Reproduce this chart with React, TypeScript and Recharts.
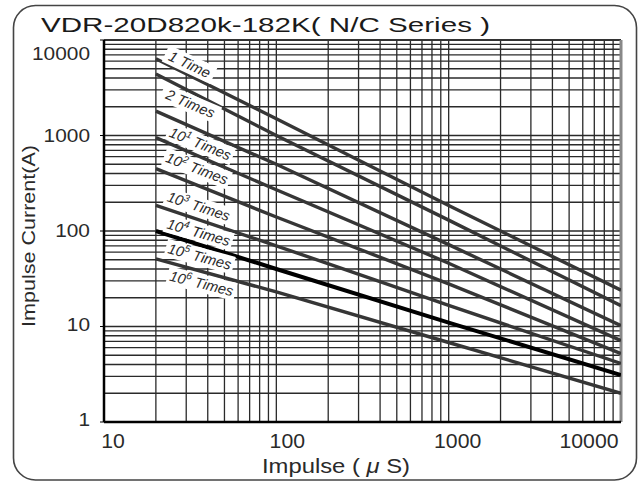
import React from "react";
import {
  LineChart,
  Line,
  XAxis,
  YAxis,
  CartesianGrid,
  ReferenceLine,
  ReferenceDot,
} from "recharts";

const impulseUs = [20, 100, 1000, 10000];

// peak current (A) for each number of impulses
const oneTime = [6350, 1500, 185, 24];
const twoTimes = [4400, 1000, 130, 16.5];
const times1e1 = [1800, 500, 72, 10.2];
const times1e2 = [950, 270, 46, 7.1];
const times1e3 = [450, 140, 28, 5.2];
const times1e4 = [185, 70, 16.6, 4.1];
const times1e5 = [100, 40, 11, 3.1];
const times1e6 = [51, 23, 6.8, 2.0];

const xTicks = [10, 100, 1000, 10000];
const yTicks = [1, 10, 100, 1000, 10000];

const xGrid = [
  20, 30, 40, 50, 60, 70, 80, 90, 100, 200, 300, 400, 500, 600, 700, 800, 900,
  1000, 2000, 3000, 4000, 5000, 6000, 7000, 8000, 9000,
];
const yGrid = [
  2, 3, 4, 5, 6, 7, 8, 9, 10, 20, 30, 40, 50, 60, 70, 80, 90, 100, 200, 300,
  400, 500, 600, 700, 800, 900, 1000, 2000, 3000, 4000, 5000, 6000, 7000, 8000,
  9000,
];

// curve tags: "10" + superscript + rest
const tagTexts = [
  { pre: "1 Time", sup: "", post: "" },
  { pre: "2 Times", sup: "", post: "" },
  { pre: "10", sup: "1", post: " Times" },
  { pre: "10", sup: "2", post: " Times" },
  { pre: "10", sup: "3", post: " Times" },
  { pre: "10", sup: "4", post: " Times" },
  { pre: "10", sup: "5", post: " Times" },
  { pre: "10", sup: "6", post: " Times" },
];
// where each tag sits, in chart units
const tagX = [31.4, 31.7, 36.2, 34.6, 35.4, 35.4, 35.9, 36.8];
const tagY = [5540, 2148, 819, 451, 181, 96.5, 54, 28.2];
const tagAngle = [25, 23, 22, 21, 18, 16, 15, 14];

const curves = [
  { key: "c1", values: oneTime },
  { key: "c2", values: twoTimes },
  { key: "c3", values: times1e1 },
  { key: "c4", values: times1e2 },
  { key: "c5", values: times1e3 },
  { key: "c6", values: times1e4 },
  { key: "c7", values: times1e5, bold: true },
  { key: "c8", values: times1e6 },
];

const rows = impulseUs.map((t, i) => {
  const row: Record<string, number> = { t };
  curves.forEach((c) => (row[c.key] = c.values[i]));
  return row;
});

const FONT = "'Liberation Sans', Arial, sans-serif";

const xShift: Record<number, number> = { 10: 9, 100: 11, 1000: 9, 10000: -32 };
const XTick = (props: any) => {
  const { x, payload } = props;
  const s = String(payload.value);
  return (
    <text
      x={x + (xShift[payload.value] ?? 0)}
      y={448}
      textAnchor="middle"
      fontSize={20}
      fontFamily={FONT}
      fill="#2a2a2a"
      textLength={11.8 * s.length}
      lengthAdjust="spacingAndGlyphs"
    >
      {s}
    </text>
  );
};

const yShift: Record<number, number> = { 1: -3, 10: -2, 100: -1, 1000: 0, 10000: 13 };
const YTick = (props: any) => {
  const { y, payload } = props;
  const s = String(payload.value);
  return (
    <text
      x={90}
      y={y + (yShift[payload.value] ?? 0) + 6.5}
      textAnchor="end"
      fontSize={18}
      fontFamily={FONT}
      fill="#2a2a2a"
      textLength={11.6 * s.length}
      lengthAdjust="spacingAndGlyphs"
    >
      {s}
    </text>
  );
};

const CurveTag = (props: any) => {
  const { cx, cy, idx } = props;
  const tag = tagTexts[idx];
  const w = tag.sup ? 70 : tag.pre.length * 8.2 + 4;
  return (
    <g transform={`translate(${cx},${cy}) rotate(${tagAngle[idx]})`}>
      <rect x={-w / 2} y={-9} width={w} height={18} fill="#fff" />
      <text
        x={0}
        y={5}
        textAnchor="middle"
        fontSize={14.5}
        fontStyle="italic"
        fontFamily={FONT}
        fill="#2a2a2a"
      >
        {tag.pre}
        {tag.sup ? (
          <tspan dy={-6} fontSize={10}>
            {tag.sup}
          </tspan>
        ) : null}
        {tag.post ? <tspan dy={tag.sup ? 6 : 0}>{tag.post}</tspan> : null}
      </text>
    </g>
  );
};

export default function App() {
  return (
    <div style={{ position: "absolute", left: 0, top: 0, width: 642, height: 482 }}>
      <LineChart
        width={642}
        height={482}
        data={rows}
        margin={{ top: 40, right: 21, left: 0, bottom: 0 }}
      >
        <CartesianGrid
          horizontalValues={yGrid}
          verticalValues={xGrid}
          stroke="#2a2a2a"
          strokeWidth={1.3}
        />
        <XAxis
          type="number"
          dataKey="t"
          scale="log"
          domain={[10, 10000]}
          ticks={xTicks}
          interval={0}
          allowDataOverflow
          height={60}
          axisLine={{ stroke: "#000", strokeWidth: 2.5 }}
          tickLine={false}
          tick={<XTick />}
        />
        <YAxis
          type="number"
          scale="log"
          domain={[1, 10000]}
          ticks={yTicks}
          interval={0}
          allowDataOverflow
          width={104}
          axisLine={{ stroke: "#000", strokeWidth: 2.5 }}
          tickSize={4}
          tickLine={{ stroke: "#000" }}
          tick={<YTick />}
        />
        <ReferenceLine y={10000} stroke="#333" strokeWidth={2} />
        <ReferenceLine x={10000} stroke="#888" strokeWidth={3} />
        {curves.map((c) => (
          <Line
            key={c.key}
            type="linear"
            dataKey={c.key}
            stroke={c.bold ? "#000" : "#363636"}
            strokeWidth={c.bold ? 4 : 3.4}
            dot={false}
            activeDot={false}
            isAnimationActive={false}
          />
        ))}
        {tagTexts.map((_, i) => (
          <ReferenceDot
            key={"tag" + i}
            x={tagX[i]}
            y={tagY[i]}
            r={0}
            ifOverflow="visible"
            shape={(p: any) => <CurveTag {...p} idx={i} />}
          />
        ))}
      </LineChart>
      <svg
        width={642}
        height={482}
        style={{ position: "absolute", left: 0, top: 0, pointerEvents: "none" }}
      >
        <rect
          x={13.5}
          y={5.5}
          width={623}
          height={474.5}
          rx={22}
          fill="none"
          stroke="#444"
          strokeWidth={1.6}
        />
        <text
          x={41}
          y={32}
          fontSize={21}
          fontFamily={FONT}
          fill="#1a1a1a"
          textLength={449}
          lengthAdjust="spacingAndGlyphs"
        >
          VDR-20D820k-182K( N/C Series )
        </text>
        <text
          transform="translate(35,236) rotate(-90)"
          textAnchor="middle"
          fontSize={19}
          fontFamily={FONT}
          fill="#2a2a2a"
          textLength={182}
          lengthAdjust="spacingAndGlyphs"
        >
          Impulse Current(A)
        </text>
        <text
          x={336}
          y={473}
          textAnchor="middle"
          fontSize={20}
          fontFamily={FONT}
          fill="#2a2a2a"
          textLength={148}
          lengthAdjust="spacingAndGlyphs"
        >
          Impulse ( <tspan fontStyle="italic">μ</tspan> S)
        </text>
      </svg>
    </div>
  );
}
